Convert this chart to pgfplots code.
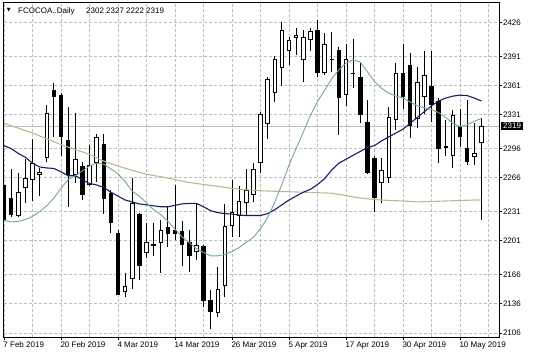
\documentclass[border=0pt]{standalone}
\usepackage{pgfplots}
\pgfplotsset{compat=1.18}
\usepackage{pgfplotstable}
\usepackage{fontspec}
\setmainfont{Liberation Sans}
\newfontfamily\symfont{DejaVu Sans}

\definecolor{magreen}{RGB}{112,168,150}
\definecolor{manavy}{RGB}{28,28,96}
\definecolor{matan}{RGB}{196,178,150}
\definecolor{gridgray}{RGB}{190,190,190}
\definecolor{bidgray}{RGB}{192,192,192}

\pgfplotstableread{
i o h l c
0 2258 2260 2183 2222
1 2245 2275 2226 2228
2 2227 2271 2226 2251
3 2255 2285 2240 2266
4 2264 2306 2242 2281
5 2269 2276 2247 2272
6 2286 2341 2282 2333
7 2356 2364 2308 2349
8 2351 2353 2288 2308
9 2305 2339 2236 2269
10 2269 2333 2260 2285
11 2278 2282 2243 2248
12 2258 2300 2257 2279
13 2281 2311 2262 2308
14 2301 2311 2229 2244
15 2250 2253 2209 2219
16 2209 2212 2145 2145
17 2148 2168 2143 2154
18 2162 2266 2151 2240
19 2229 2230 2161 2175
20 2188 2219 2183 2200
21 2196 2219 2185 2198
22 2199 2222 2168 2212
23 2215 2236 2195 2208
24 2212 2258 2202 2208
25 2211 2221 2175 2197
26 2200 2212 2169 2185
27 2189 2240 2181 2197
28 2196 2197 2133 2139
29 2140 2150 2110 2128
30 2127 2174 2122 2151
31 2154 2239 2143 2216
32 2216 2264 2205 2231
33 2227 2257 2205 2242
34 2240 2275 2227 2253
35 2248 2281 2241 2275
36 2281 2334 2271 2332
37 2321 2370 2306 2368
38 2353 2391 2344 2388
39 2379 2426 2360 2418
40 2396 2411 2382 2408
41 2410 2420 2392 2413
42 2387 2418 2365 2411
43 2408 2420 2396 2417
44 2418 2428 2370 2374
45 2374 2415 2372 2404
46 2388 2416 2375 2387
47 2398 2401 2310 2348
48 2351 2404 2340 2388
49 2374 2409 2358 2373
50 2370 2385 2322 2331
51 2323 2346 2270 2271
52 2286 2288 2231 2245
53 2260 2286 2240 2274
54 2266 2339 2260 2328
55 2325 2384 2315 2374
56 2374 2404 2337 2349
57 2382 2394 2307 2319
58 2326 2380 2317 2365
59 2349 2396 2332 2372
60 2360 2396 2323 2341
61 2345 2348 2281 2296
62 2298 2325 2288 2297
63 2288 2336 2276 2331
64 2319 2337 2298 2308
65 2297 2346 2279 2282
66 2287 2322 2279 2291
67 2302 2327 2222 2319
}\candles

\pgfplotsset{candlepart/.style={draw=none, no marks, mark options={draw=none,fill=none},
  error bars/.cd, y dir=plus, y explicit, error mark=none}}

\begin{document}
\begin{tikzpicture}
\useasboundingbox (0,0) rectangle (536bp,358bp);
\begin{axis}[
  at={(4bp,21bp)}, anchor=south west,
  scale only axis, width=495bp, height=334bp,
  xmin=0, xmax=69.47, ymin=2101.9, ymax=2445.9,
  axis line style={draw=black, line width=1bp},
  xtick={0,8,...,64},
  xticklabels={7 Feb 2019,20 Feb 2019,4 Mar 2019,14 Mar 2019,26 Mar 2019,5 Apr 2019,17 Apr 2019,30 Apr 2019,10 May 2019},
  minor xtick={4,12,...,68},
  ytick={2106,2136,2166,2201,2231,2266,2296,2331,2361,2391,2426},
  yticklabels={2106,2136,2166,2201,2231,2266,2296,2331,2361,2391,2426},
  grid=both,
  major grid style={draw=gridgray, dash pattern=on 2.5bp off 2.5bp, line width=0.8bp},
  minor grid style={draw=gridgray, dash pattern=on 2.5bp off 2.5bp, line width=0.8bp},
  tick align=outside, xtick pos=left, ytick pos=right, yticklabel pos=right,
  major tick length=3bp, minor tick length=0pt,
  major tick style={black, line width=0.8bp},
  tick label style={font=\fontsize{8bp}{9bp}\selectfont, text=black},
  xticklabel style={anchor=north west, inner sep=0pt, xshift=-0.7bp, yshift=-1.5bp},
  yticklabel style={anchor=west, inner sep=0pt, xshift=0.8bp},
]
% bid line
\addplot[bidgray, line width=1bp, forget plot] coordinates {(0,2319) (69.47,2319)};
% wicks
\addplot[candlepart, error bar style={draw=black, line width=1bp}]
  table[x=i, y expr={\thisrow{l}}, y error plus expr={\thisrow{h}-\thisrow{l}}] {\candles};
% body outlines / black bodies
\addplot[candlepart, error bar style={draw=black, line width=4.5bp}]
  table[x=i, y expr={min(\thisrow{o},\thisrow{c})}, y error plus expr={max(abs(\thisrow{c}-\thisrow{o}),1.1)}] {\candles};
% white interiors of rising candles
\addplot[candlepart, error bar style={draw=white, line width=2.5bp}]
  table[x=i, y expr={\thisrow{o}+1.03}, y error plus expr={max(\thisrow{c}-\thisrow{o}-2.06,0)}] {\candles};
% moving averages
\addplot[matan, line width=1.1bp] coordinates {
(0,2322) (2,2317) (4,2312) (6,2306) (8,2300) (10,2295) (12,2290) (14,2283) (16,2278) (18,2273.5) (20,2269.5) (22,2267) (24,2264) (26,2261) (28,2259) (30,2257) (32,2255) (34,2253.5) (36,2252.5) (38,2252) (40,2251.5) (42,2251) (44,2250.5) (46,2250) (48,2247.5) (50,2245) (52,2243.5) (54,2242.5) (56,2242) (58,2241) (60,2241.5) (62,2242) (64,2242.5) (66,2243) (67,2243)};
\addplot[manavy, line width=1.1bp] coordinates {
(0,2299) (1,2296) (2,2291) (3,2287) (4,2281) (5,2277) (6,2276) (7,2275.5) (8,2272) (9,2268) (10,2268) (11,2264) (12,2260) (13,2258.5) (14,2256) (15,2251) (16,2247) (17,2243) (18,2241) (19,2239) (20,2238) (21,2237) (22,2236) (23,2236) (24,2237.5) (25,2239) (26,2239.5) (27,2239.5) (28,2236) (29,2232) (30,2230) (31,2229) (32,2228.5) (33,2227.5) (34,2227) (35,2227) (36,2227) (37,2229) (38,2233) (39,2238) (40,2243) (41,2247) (42,2251) (43,2254) (44,2259) (45,2265) (46,2274) (47,2281) (48,2285) (49,2289) (50,2293) (51,2297) (52,2299) (53,2304) (54,2308) (55,2312) (56,2316) (57,2322) (58,2328) (59,2334) (60,2340) (61,2345) (62,2348) (63,2350) (64,2351) (65,2350.5) (66,2348) (67,2345)};
\addplot[magreen, line width=0.9bp] coordinates {
(0,2222) (1,2220.5) (2,2221) (3,2223) (4,2226) (5,2231) (6,2237) (7,2245) (8,2255) (9,2264) (10,2268) (11,2273) (12,2278) (13,2281) (14,2280) (15,2275) (16,2270) (17,2262) (18,2252) (19,2247) (20,2240) (21,2233) (22,2228) (23,2221) (24,2213) (25,2205) (26,2199) (27,2193) (28,2189) (29,2185.5) (30,2185.5) (31,2187) (32,2190) (33,2194) (34,2199.5) (35,2204.5) (36,2213.5) (37,2225) (38,2241) (39,2259) (40,2279) (41,2296) (42,2313) (43,2330) (44,2344.5) (45,2356) (46,2368) (47,2377) (48,2384) (49,2387.5) (50,2385) (51,2375) (52,2365) (53,2358) (54,2353) (55,2350) (56,2348) (57,2344) (58,2340) (59,2338) (60,2336) (61,2333) (62,2328) (63,2322) (64,2318.5) (65,2320.5) (66,2324) (67,2327)};
\coordinate (bid) at (axis cs:69.47,2319);
\end{axis}
\node[fill=black, text=white, anchor=west, inner xsep=2.3bp, inner ysep=1.1bp, font=\fontsize{8bp}{9bp}\selectfont] at ([xshift=1.7bp]bid) {2319};
\node[anchor=south west, inner sep=0pt, font=\symfont\fontsize{5bp}{6bp}\selectfont] at (6.7bp,345.5bp) {▼};
\node[anchor=base west, inner sep=0pt, font=\fontsize{8bp}{9bp}\selectfont] at (18bp,344bp) {FCOCOA..Daily};
\node[anchor=base west, inner sep=0pt, font=\fontsize{8bp}{9bp}\selectfont] at (86bp,344bp) {2302 2327 2222 2319};
\end{tikzpicture}
\end{document}
